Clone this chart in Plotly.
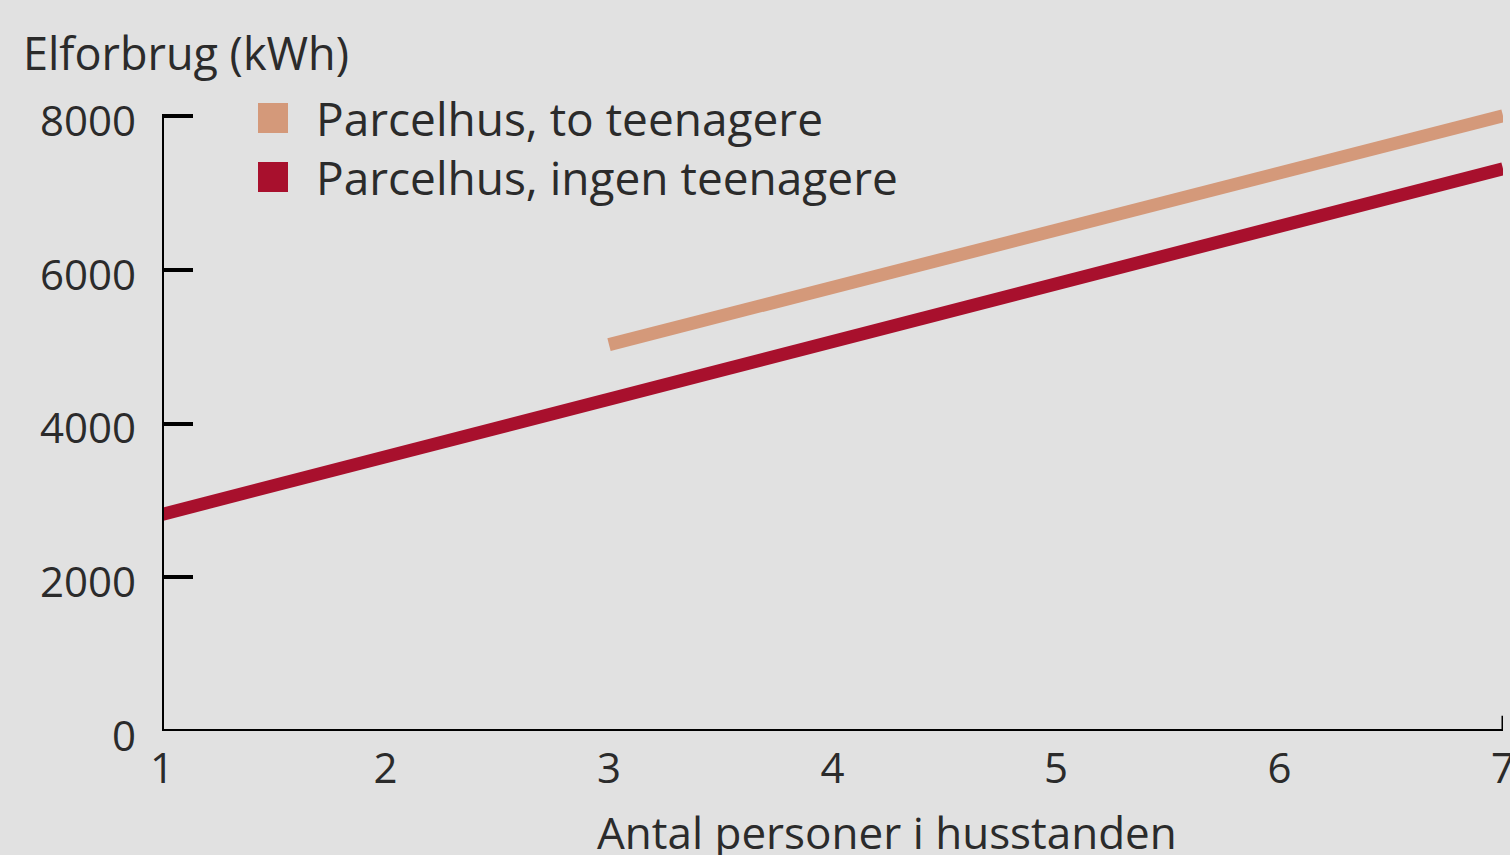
import plotly.graph_objects as go

persons_two_teens = [3, 7]
kwh_two_teens = [5030, 8010]
persons_no_teens = [1, 7]
kwh_no_teens = [2820, 7320]
series_names = ["Parcelhus, to teenagere", "Parcelhus, ingen teenagere"]
series_colors = ["#D4997A", "#A8102D"]
y_ticks = [0, 2000, 4000, 6000, 8000]
x_ticks = [1, 2, 3, 4, 5, 6, 7]
y_title = "Elforbrug (kWh)"
x_title = "Antal personer i husstanden"

FONT = "Open Sans"
TXT = "#2b2b2b"
BG = "#E1E1E1"

fig = go.Figure()
fig.add_trace(go.Scatter(x=persons_no_teens, y=kwh_no_teens, mode="lines",
                         line=dict(color=series_colors[1], width=13), showlegend=False,
                         name=series_names[1]))
fig.add_trace(go.Scatter(x=persons_two_teens, y=kwh_two_teens, mode="lines",
                         line=dict(color=series_colors[0], width=13), showlegend=False,
                         name=series_names[0]))

shapes = [
    dict(type="line", xref="x", yref="y", x0=1, x1=1, y0=0, y1=8000,
         line=dict(color="black", width=4)),
    dict(type="line", xref="x", yref="y", x0=1, x1=7, y0=0, y1=0,
         line=dict(color="black", width=4)),
    dict(type="line", xref="x", yref="y", x0=7, x1=7, y0=0, y1=200,
         line=dict(color="black", width=3)),
]
annotations = [
    dict(text=y_title, xref="paper", yref="paper", x=0, y=1, showarrow=False,
         xanchor="left", yanchor="middle", font=dict(size=45, color=TXT, family=FONT),
         xshift=-141, yshift=3),
    dict(text=x_title, xref="paper", yref="paper", x=0.5, y=0, showarrow=False,
         xanchor="center", yanchor="middle", font=dict(size=44, color=TXT, family=FONT),
         xshift=54, yshift=-101),
]
legend_y = [118, 177]
for name, color, ypx in zip(series_names, series_colors, legend_y):
    shapes.append(dict(type="rect", xref="paper", yref="paper",
                       x0=(258 - 162) / 1341, x1=(288 - 162) / 1341,
                       y0=(731 - ypx - 15) / 676, y1=(731 - ypx + 15) / 676,
                       fillcolor=color, line=dict(width=0)))
    annotations.append(dict(text=name, xref="paper", yref="paper",
                            x=(314 - 162) / 1341, y=(731 - ypx) / 676,
                            showarrow=False, xanchor="left", yanchor="middle",
                            font=dict(size=46, color=TXT, family=FONT)))

fig.update_layout(
    width=1510, height=855,
    margin=dict(l=162, r=7, t=55, b=124, autoexpand=False),
    paper_bgcolor=BG, plot_bgcolor=BG,
    shapes=shapes, annotations=annotations,
    showlegend=False,
    xaxis=dict(range=[1, 7], tickvals=x_ticks, ticktext=[str(v) for v in x_ticks],
               showgrid=False, zeroline=False, showline=False, ticks="",
               ticklabeloverflow="allow", automargin=False,
               tickfont=dict(size=42, color=TXT, family=FONT), ticklabelstandoff=9),
    yaxis=dict(range=[0, 8800], tickvals=y_ticks, ticktext=[str(v) for v in y_ticks],
               showgrid=False, zeroline=False, showline=False, ticks="inside",
               ticklen=31, tickwidth=4, tickcolor="black", automargin=False,
               tickfont=dict(size=42, color=TXT, family=FONT),
               ticklabelstandoff=25, ticklabelshift=5),
)
fig.write_html("out.html", post_script="document.body.style.margin='0';",
               config={"displayModeBar": False})
